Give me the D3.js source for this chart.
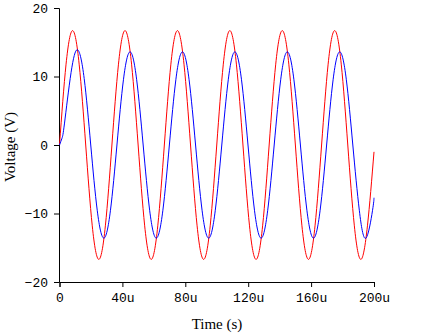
<!DOCTYPE html>
<html><head><meta charset="utf-8">
<script src="https://cdn.jsdelivr.net/npm/d3@7"></script>
<style>
html,body{margin:0;padding:0;background:#fff;}
svg{display:block;}
</style>
</head><body>
<svg id="chart" width="422" height="334"></svg>
<script>
// Time in microseconds
const redTime = [0,4.17,8.33,12.5,16.67,20.83,25,29.17,33.33,37.5,41.67,45.83,50,54.17,58.33,62.5,66.67,70.83,75,79.17,83.33,87.5,91.67,95.83,100,104.17,108.33,112.5,116.67,120.83,125,129.17,133.33,137.5,141.67,145.83,150,154.17,158.33,162.5,166.67,170.83,175,179.17,183.33,187.5,191.67,195.83,200];
const redVolt = [0,11.8,16.7,11.8,0,-11.8,-16.7,-11.8,
                 0,11.8,16.7,11.8,0,-11.8,-16.7,-11.8,
                 0,11.8,16.7,11.8,0,-11.8,-16.7,-11.8,
                 0,11.8,16.7,11.8,0,-11.8,-16.7,-11.8,
                 0,11.8,16.7,11.8,0,-11.8,-16.7,-11.8,
                 0,11.8,16.7,11.8,0,-11.8,-16.7,-11.8,
                 -1];
const blueTime = [0,1.6,3.2,7.37,11.53,15.7,19.87,24.03,28.2,32.37,36.53,40.7,44.87,49.03,53.2,57.37,61.53,65.7,69.87,74.03,78.2,82.37,86.53,90.7,94.87,99.03,103.2,107.37,111.53,115.7,119.87,124.03,128.2,132.37,136.53,140.7,144.87,149.03,153.2,157.37,161.53,165.7,169.87,174.03,178.2,182.37,186.53,190.7,194.87,199.03,200];
const blueVolt = [0,1.0,3.2,10.6,13.9,9.7,0,-9.6,-13.6,-9.6,
                  0,9.6,13.6,9.6,0,-9.6,-13.6,-9.6,
                  0,9.6,13.6,9.6,0,-9.6,-13.6,-9.6,
                  0,9.6,13.6,9.6,0,-9.6,-13.6,-9.6,
                  0,9.6,13.6,9.6,0,-9.6,-13.6,-9.6,
                  0,9.6,13.6,9.6,0,-9.6,-13.6,-9.6,
                  -7.7];
const xTicks = [0,40,80,120,160,200];
const xTickLabels = ["0","40u","80u","120u","160u","200u"];
const yTicks = [-20,-10,0,10,20];
const xTitle = "Time (s)";
const yTitle = "Voltage (V)";

const svg = d3.select("#chart");
const x = d3.scaleLinear().domain([0,200]).range([59.5,374]);
const y = d3.scaleLinear().domain([-20,20]).range([282,8]);

const tickFont = "'Liberation Mono', monospace";
const gx = svg.append("g").attr("transform","translate(0,282)")
  .call(d3.axisBottom(x).tickValues(xTicks).tickFormat((d,i)=>xTickLabels[i]).tickSizeOuter(0).tickSize(5).tickPadding(6));
const gy = svg.append("g").attr("transform","translate(59,0)")
  .call(d3.axisLeft(y).tickValues(yTicks).tickSizeOuter(0).tickSize(5).tickPadding(6));
[gx,gy].forEach(g=>{
  g.selectAll("text").attr("font-family",tickFont).attr("font-size",13).attr("fill","#000");
  g.selectAll("line,path").attr("stroke","#000");
});

const line = d3.line().x(d=>x(d[0])).y(d=>y(d[1])).curve(d3.curveNatural);
const red = redTime.map((t,i)=>[t,redVolt[i]]);
const blue = blueTime.map((t,i)=>[t,blueVolt[i]]);
svg.append("path").attr("d",line(red)).attr("fill","none").attr("stroke","#ff0000").attr("stroke-width",1);
svg.append("path").attr("d",line(blue)).attr("fill","none").attr("stroke","#0000ff").attr("stroke-width",1);

svg.append("text").attr("x",217).attr("y",329).attr("text-anchor","middle")
  .attr("font-family","'Liberation Serif', serif").attr("font-size",15).text(xTitle);
svg.append("text").attr("transform","translate(15,147) rotate(-90)").attr("text-anchor","middle")
  .attr("font-family","'Liberation Serif', serif").attr("font-size",15).text(yTitle);
</script>
</body></html>
